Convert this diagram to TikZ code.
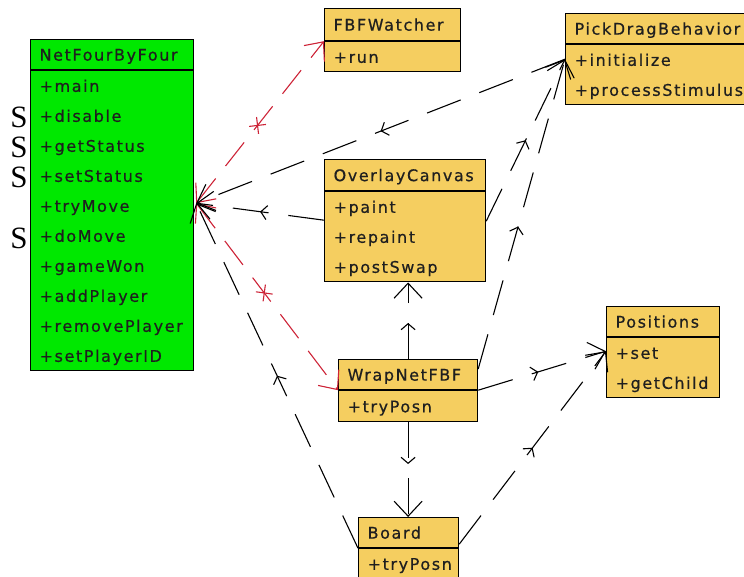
\documentclass[tikz,border=0pt]{standalone}
\usepackage{fontspec}
\usetikzlibrary{arrows.meta,decorations.markings,calc}
\newfontfamily\umlfont{DejaVu Sans}[LetterSpace=10,FakeBold=0.6]
\newfontfamily\sfont{Liberation Serif}
\definecolor{umlyellow}{RGB}{245,206,96}
\definecolor{umlgreen}{RGB}{0,232,0}
\definecolor{umlred}{RGB}{205,35,55}
\begin{document}
\begin{tikzpicture}[x=1pt,y=-1pt,
  box/.style={draw=black, line width=1.2pt, fill=umlyellow, anchor=north west,
    inner xsep=9pt, inner ysep=0pt, align=left,
    font=\umlfont\fontsize{16}{30}\selectfont, text=black!88},
  slabel/.style={font=\sfont\fontsize{31}{31}\selectfont, inner sep=0pt},
  dep/.style={draw=black, line width=1.1pt, dash pattern=on 36pt off 20pt,
    -{Straight Barb[length=15pt,width=28pt]},
    postaction={decorate, decoration={markings,
      mark=at position #1 with {\arrow{Straight Barb[length=6pt,width=14pt]}}}}},
  dep/.default=0.5,
  reddep/.style={draw=umlred, line width=1.1pt, dash pattern=on 30pt off 16pt,
    {Straight Barb[length=15pt,width=26pt]}-{Straight Barb[length=15pt,width=26pt]},
    postaction={decorate, decoration={markings,
      mark=at position 0.48 with {\draw[umlred, line width=1.1pt, solid, arrows=-] (-6,-6) -- (6,6) (-6,6) -- (6,-6);}}}}
]
\useasboundingbox (0,0) rectangle (744,577);
\clip (0,0) rectangle (744,577);

% NetFourByFour
\node[box, fill=umlgreen, text width=145pt, minimum height=30pt] (netH) at (30,39) {\strut NetFourByFour};
\node[box, fill=umlgreen, text width=145pt, minimum height=300pt] (netB) at (netH.south west)
  {\strut+main\\\strut+disable\\\strut+getStatus\\\strut+setStatus\\\strut+tryMove\\\strut+doMove\\\strut+gameWon\\\strut+addPlayer\\\strut+removePlayer\\\strut+setPlayerID};

% FBFWatcher
\node[box, text width=118pt, minimum height=32pt] (fbfH) at (324,8) {\strut FBFWatcher};
\node[box, text width=118pt, minimum height=30pt] (fbfB) at (fbfH.south west) {\strut+run};

% PickDragBehavior
\node[box, text width=177pt, minimum height=30pt] (pdH) at (565,13) {\strut PickDragBehavior};
\node[box, text width=177pt, minimum height=60pt] (pdB) at (pdH.south west) {\strut+initialize\\\strut+processStimulus};

% OverlayCanvas
\node[box, text width=143pt, minimum height=31pt] (ocH) at (324,159) {\strut OverlayCanvas};
\node[box, text width=143pt, minimum height=90pt] (ocB) at (ocH.south west) {\strut+paint\\\strut+repaint\\\strut+postSwap};

% WrapNetFBF
\node[box, text width=121pt, minimum height=29pt] (wrH) at (338,359) {\strut WrapNetFBF};
\node[box, text width=121pt, minimum height=31pt] (wrB) at (wrH.south west) {\strut+tryPosn};

% Positions
\node[box, text width=95pt, minimum height=30pt] (posH) at (606,306) {\strut Positions};
\node[box, text width=95pt, minimum height=60pt] (posB) at (posH.south west) {\strut+set\\\strut+getChild};

% Board
\node[box, text width=82pt, minimum height=30pt] (bdH) at (358,517) {\strut Board};
\node[box, text width=82pt, minimum height=30pt] (bdB) at (bdH.south west) {\strut+tryPosn};

% S labels
\node[slabel] (s1) at (19,117) {S};
\node[slabel] (s2) at (19,147) {S};
\node[slabel] (s3) at (19,177) {S};
\node[slabel] (s4) at (19,238) {S};

% hub on NetFourByFour
\coordinate (hub) at ([xshift=2pt,yshift=-133pt]netB.north east);

% red associations
\draw[reddep] (hub) -- (fbfB.north west);
\draw[reddep] (hub) -- (wrB.north west);

% black dependencies
\draw[dep] ([yshift=-15pt]pdB.north west) -- (hub);
\draw[dep] ([yshift=-29pt]ocB.north west) -- (hub);
\draw[dep] (bdB.north west) -- (hub);
\draw[dep] ([yshift=-30pt]ocB.north east) -- ([yshift=-15pt]pdB.north west);
\draw[dep=0.46] ([yshift=-10pt]wrH.north east) -- ([yshift=-15pt]pdB.north west);
\draw[dep=0.47] (wrB.north east) -- ([yshift=-14pt]posB.north west);
\draw[dep] ([yshift=4pt]bdB.north east) -- ([yshift=-14pt]posB.north west);
\draw[dep=0.47] (wrH.north) -- (wrH.north |- ocB.south);
\draw[dep=0.44] (wrB.south) -- (wrB.south |- bdH.north);
\end{tikzpicture}
\end{document}
